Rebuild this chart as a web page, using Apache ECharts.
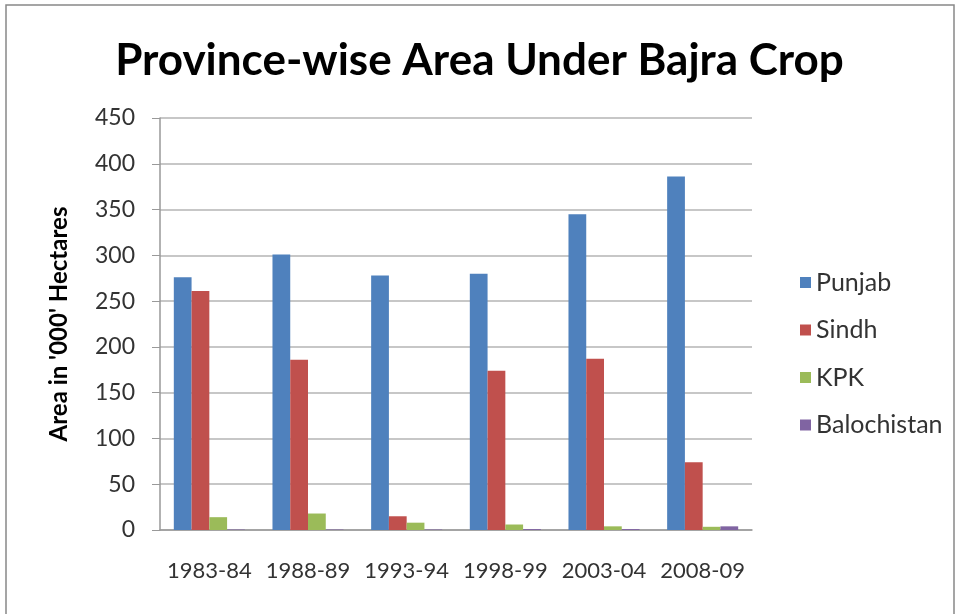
<!DOCTYPE html>
<html><head><meta charset="utf-8">
<script src="https://cdn.jsdelivr.net/npm/echarts@6/dist/echarts.min.js"></script>
<style>html,body{margin:0;padding:0;background:#fff}#c{width:959px;height:614px}</style>
</head><body><div id="c"></div>
<script>
var categories = ['1983-84','1988-89','1993-94','1998-99','2003-04','2008-09'];
var punjab = [276, 301, 278, 280, 345, 386];
var sindh = [261, 186, 15, 174, 187, 74];
var kpk = [14, 18, 8, 6, 4, 3.5];
var balochistan = [0.5, 0.5, 0.5, 1, 1, 4];
var yTicks = [0, 50, 100, 150, 200, 250, 300, 350, 400, 450];

var font = 'Lato, "Open Sans", sans-serif';
var chart = echarts.init(document.getElementById('c'));
function s(name, data, color){
  return {name:name, type:'bar', data:data, barGap:'0%', barCategoryGap:'28%', itemStyle:{color:color}};
}
chart.setOption({
  animation:false,
  title:{text:'Province-wise Area Under Bajra Crop', left:'center', top:34,
    textStyle:{fontFamily:font, fontSize:44, fontWeight:'bold', color:'#000'}},
  graphic:[{type:'rect', shape:{x:6,y:5,width:948,height:620}, style:{fill:'none', stroke:'#888', lineWidth:1.5}, silent:true}],
  legend:{orient:'vertical', left:795, top:265, itemGap:22.5, itemWidth:11, itemHeight:11, icon:'rect',
    textStyle:{fontFamily:font, fontSize:25, color:'#333'}},
  grid:{left:160, right:207, top:118, bottom:84},
  xAxis:{type:'category', data:categories,
    axisLine:{lineStyle:{color:'#999', width:1.5}}, axisTick:{show:false},
    axisLabel:{interval:0, fontFamily:font, fontSize:22, color:'#333', margin:30}},
  yAxis:{type:'value', min:yTicks[0], max:yTicks[yTicks.length-1], interval:50,
    name:"Area in '000' Hectares", nameLocation:'middle', nameGap:89, nameRotate:90,
    nameTextStyle:{fontFamily:font, fontSize:24, fontWeight:'bold', color:'#000'},
    axisLine:{show:true, lineStyle:{color:'#999', width:1.5}},
    axisTick:{show:true, length:8, lineStyle:{color:'#999'}},
    splitLine:{lineStyle:{color:'#b5b5b5', width:1.5}},
    axisLabel:{fontFamily:font, fontSize:23, color:'#333', margin:25}},
  series:[s('Punjab',punjab,'#4f81bd'), s('Sindh',sindh,'#c0504d'), s('KPK',kpk,'#9bbb59'), s('Balochistan',balochistan,'#8064a2')]
});
</script></body></html>
